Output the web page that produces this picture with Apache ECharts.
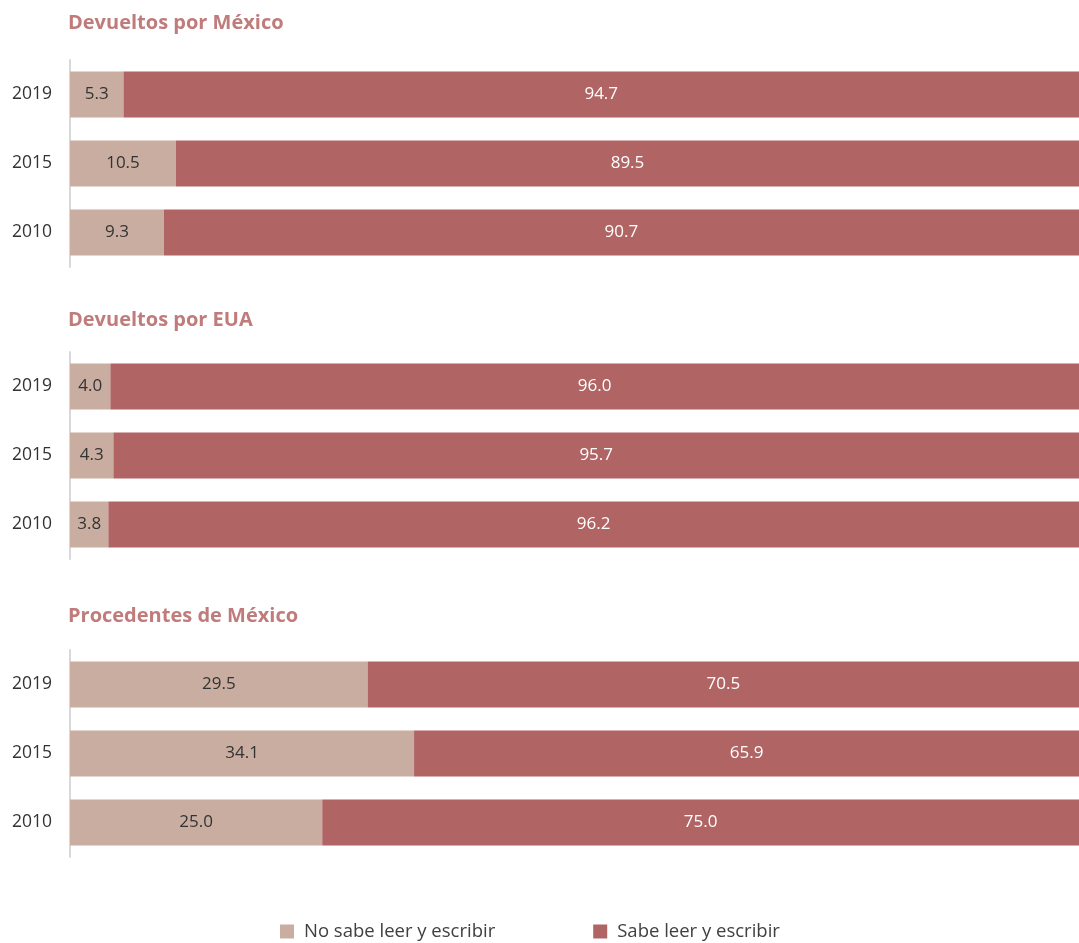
<!DOCTYPE html>
<html><head><meta charset="utf-8">
<script src="https://cdn.jsdelivr.net/npm/echarts@6/dist/echarts.min.js"></script>
<style>html,body{margin:0;padding:0;background:#fff}#c{width:1079px;height:943px}</style>
</head><body><div id="c"></div>
<script>
const years = ['2019', '2015', '2010'];
const panelTitles = ['Devueltos por México', 'Devueltos por EUA', 'Procedentes de México'];
const seriesNames = ['No sabe leer y escribir', 'Sabe leer y escribir'];
const noSabeMexico = [5.3, 10.5, 9.3];
const sabeMexico = [94.7, 89.5, 90.7];
const noSabeEUA = [4.0, 4.3, 3.8];
const sabeEUA = [96.0, 95.7, 96.2];
const noSabeProc = [29.5, 34.1, 25.0];
const sabeProc = [70.5, 65.9, 75.0];

const panels = [[noSabeMexico, sabeMexico], [noSabeEUA, sabeEUA], [noSabeProc, sabeProc]];
const font = '"Open Sans", sans-serif';
const colLight = '#c8ada0';
const colDark = '#b06464';
const gridTops = [60, 352, 650];
const gridH = 207;
const titleTops = [8, 305, 601];

const grid = [], xAxis = [], yAxis = [], series = [], title = [];
panels.forEach((p, i) => {
  grid.push({left: 70, right: 0, top: gridTops[i], height: gridH});
  title.push({text: panelTitles[i], left: 63, top: titleTops[i],
    textStyle: {fontFamily: font, fontSize: 20, fontWeight: 'bold', color: '#c07b7b'}});
  xAxis.push({gridIndex: i, type: 'value', min: 0, max: 100, show: false});
  yAxis.push({gridIndex: i, type: 'category', data: years, inverse: true,
    axisLine: {show: true, lineStyle: {color: '#d9d9d9', width: 2}},
    axisTick: {show: false},
    axisLabel: {fontFamily: font, fontSize: 17.5, color: '#333', margin: 18}});
  series.push({name: seriesNames[0], type: 'bar', stack: 's' + i, xAxisIndex: i, yAxisIndex: i,
    data: p[0], barWidth: '67%', itemStyle: {color: colLight},
    label: {show: true, position: 'inside', formatter: (d) => d.value.toFixed(1),
      fontFamily: font, fontSize: 17, color: '#333'}});
  series.push({name: seriesNames[1], type: 'bar', stack: 's' + i, xAxisIndex: i, yAxisIndex: i,
    data: p[1], barWidth: '67%', itemStyle: {color: colDark},
    label: {show: true, position: 'inside', formatter: (d) => d.value.toFixed(1),
      fontFamily: font, fontSize: 17, color: '#fff'}});
});

const chart = echarts.init(document.getElementById('c'), null, {renderer: 'canvas'});
chart.setOption({
  animation: false,
  title: title,
  grid: grid, xAxis: xAxis, yAxis: yAxis, series: series,
  legend: {data: seriesNames, left: 280, top: 922, padding: 0, itemWidth: 14, itemHeight: 14, itemGap: 98,
    icon: 'rect', textStyle: {fontFamily: font, fontSize: 18.5, color: '#404040', padding: [0, 0, 0, 5]}}
});
</script></body></html>
